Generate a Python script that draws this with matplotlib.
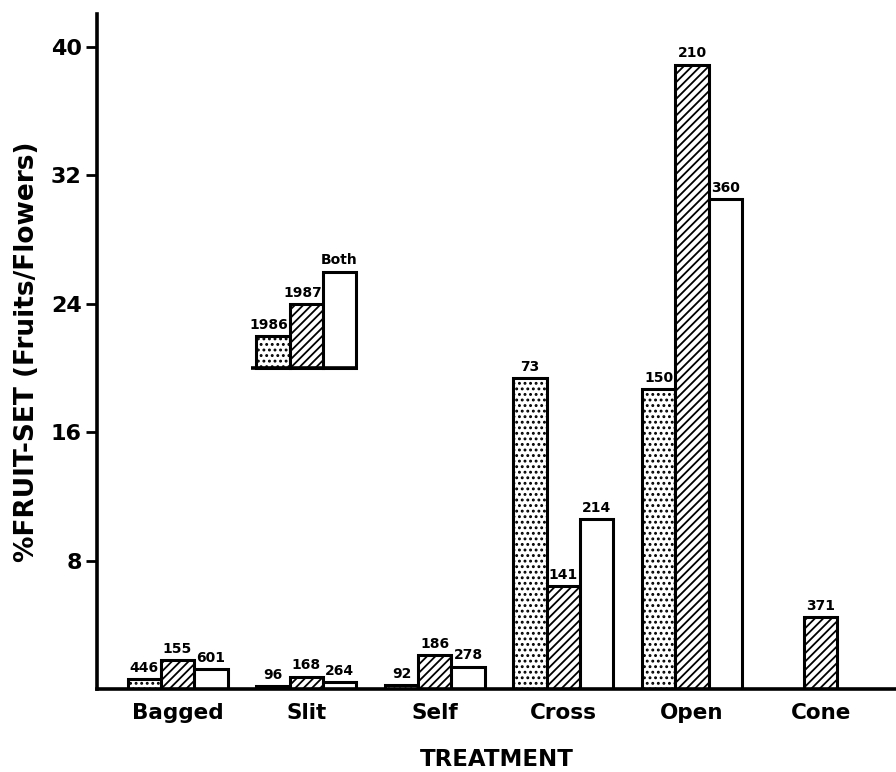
import numpy as np
import matplotlib
matplotlib.use("Agg")
import matplotlib.pyplot as plt

plt.rcParams['font.family'] = ['DejaVu Sans']
plt.rcParams['font.weight'] = 'bold'
plt.rcParams['hatch.linewidth'] = 1.3
plt.rcParams['hatch.color'] = 'black'

# ---- data ----
treatments = ["Bagged", "Slit", "Self", "Cross", "Open", "Cone"]
series_names = ["1986", "1987", "Both"]
fruitset_1986 = [0.6, 0.2, 0.25, 19.35, 18.7, np.nan]
fruitset_1987 = [1.8, 0.77, 2.1, 6.4, 38.9, 4.5]
fruitset_both = [1.23, 0.45, 1.4, 10.6, 30.5, np.nan]
n_1986 = ["446", "96", "92", "73", "150", ""]
n_1987 = ["155", "168", "186", "141", "210", "371"]
n_both = ["601", "264", "278", "214", "360", ""]
yticks = [8, 16, 24, 32, 40]

# ---- styling ----
W = 0.259
hatches = ['...', '////', '']
lw = 2.2

fig = plt.figure(figsize=(8.96, 7.72), dpi=100)
ax = fig.add_axes([97/896, 83/772, 799/896, 675/772])

x = np.arange(len(treatments))
vals = [fruitset_1986, fruitset_1987, fruitset_both]
counts = [n_1986, n_1987, n_both]
for i, (v, c, h) in enumerate(zip(vals, counts, hatches)):
    bars = ax.bar(x + (i - 1) * W, v, W, facecolor='white', edgecolor='black',
                  linewidth=lw, hatch=h, zorder=2)
    for b, val, lab in zip(bars, v, c):
        if np.isnan(val) or not lab:
            continue
        ax.annotate(lab, (b.get_x() + b.get_width() / 2, val),
                    xytext=(0, 3), textcoords='offset points',
                    ha='center', va='bottom', fontsize=10, fontweight='bold')

# legend drawn as small bars inside the plot, above "Slit"
leg_x = 1
leg_base = 20
leg_heights = [2, 4, 6]
for i, (name, h, ht) in enumerate(zip(series_names, hatches, leg_heights)):
    xc = leg_x + (i - 1) * W
    ax.bar(xc, ht, W, bottom=leg_base, facecolor='white', edgecolor='black',
           linewidth=lw, hatch=h, zorder=2)
    ax.annotate(name, (xc - 0.03 * (i < 2), leg_base + ht), xytext=(0, 3),
                textcoords='offset points', ha='center', va='bottom',
                fontsize=10, fontweight='bold')
ax.hlines(leg_base, leg_x - 1.5 * W - 0.04, leg_x + 1.5 * W + 0.01,
          colors='black', linewidth=2.6, zorder=3)

ax.set_xlim(-0.626, 5.585)
ax.set_ylim(0, 42.05)
ax.set_yticks(yticks)
ax.set_yticklabels([str(t) for t in yticks], fontsize=16, fontweight='bold')
ax.set_xticks(x)
ax.set_xticklabels(treatments, fontsize=15.5, fontweight='bold')
ax.tick_params(axis='x', length=0, pad=10)
ax.tick_params(axis='y', length=8, width=2, direction='out', pad=3)

for s in ['top', 'right']:
    ax.spines[s].set_visible(False)
for s in ['left', 'bottom']:
    ax.spines[s].set_linewidth(2.6)
    ax.spines[s].set_zorder(4)

ax.set_ylabel("%FRUIT-SET (Fruits/Flowers)", fontsize=19, fontweight='bold',
              labelpad=8)
fig.text(0.555, 1 - 760/772, "TREATMENT", ha='center', va='center',
         fontsize=16.5, fontweight='bold')

fig.savefig("out.png", dpi=100)
